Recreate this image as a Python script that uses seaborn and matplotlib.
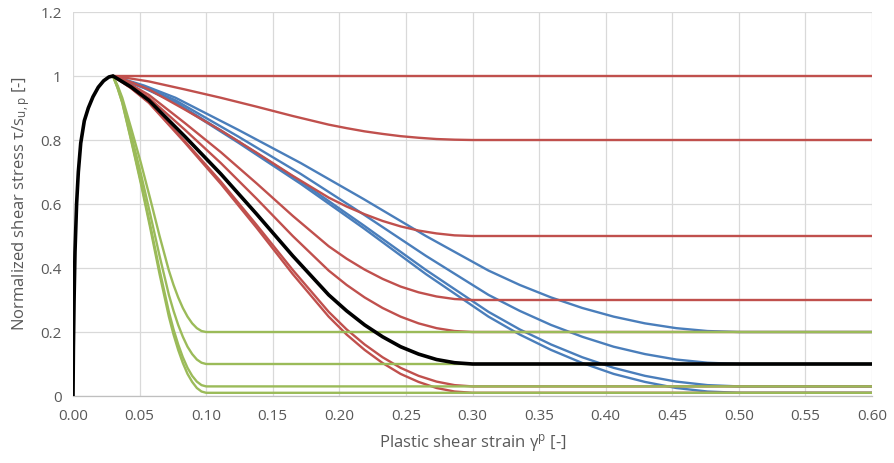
import numpy as np
import pandas as pd
import matplotlib
matplotlib.use("Agg")
import matplotlib.pyplot as plt
import seaborn as sns

# ---------------- data ----------------
# Red family: residual reached at strain 0.30
red_x = [0.03, 0.0435, 0.057, 0.084, 0.111, 0.138, 0.165, 0.192, 0.2055, 0.219,
         0.2325, 0.246, 0.2595, 0.273, 0.2865, 0.30, 0.60]
red_r100 = [1.0] * 17
red_r080 = [1.0, 0.992, 0.983, 0.958, 0.932, 0.904, 0.875, 0.848, 0.837, 0.827,
            0.819, 0.812, 0.807, 0.803, 0.801, 0.800, 0.800]
red_r050 = [1.0, 0.981, 0.958, 0.895, 0.830, 0.760, 0.688, 0.620, 0.592, 0.568,
            0.547, 0.530, 0.517, 0.508, 0.502, 0.500, 0.500]
red_r030 = [1.0, 0.973, 0.941, 0.853, 0.762, 0.664, 0.563, 0.468, 0.429, 0.395,
            0.366, 0.342, 0.324, 0.311, 0.303, 0.300, 0.300]
red_r020 = [1.0, 0.970, 0.932, 0.832, 0.728, 0.616, 0.500, 0.392, 0.347, 0.308,
            0.275, 0.248, 0.227, 0.212, 0.203, 0.200, 0.200]
red_r003 = [1.0, 0.963, 0.918, 0.796, 0.670, 0.534, 0.394, 0.263, 0.208, 0.161,
            0.121, 0.088, 0.063, 0.045, 0.034, 0.030, 0.030]
red_r001 = [1.0, 0.962, 0.916, 0.792, 0.663, 0.525, 0.381, 0.248, 0.192, 0.144,
            0.103, 0.069, 0.044, 0.025, 0.014, 0.010, 0.010]

# Blue family: residual reached at strain 0.50
blue_x = [0.03, 0.0535, 0.077, 0.124, 0.171, 0.218, 0.265, 0.312, 0.3355, 0.359,
          0.3825, 0.406, 0.4295, 0.453, 0.4765, 0.50, 0.60]
# Green family: residual reached at strain 0.10
green_x = [0.03, 0.0335, 0.037, 0.044, 0.051, 0.058, 0.065, 0.072, 0.0755, 0.079,
           0.0825, 0.086, 0.0895, 0.093, 0.0965, 0.10, 0.60]

soft_r020 = [1.0, 0.970, 0.932, 0.832, 0.728, 0.616, 0.500, 0.392, 0.347, 0.308,
             0.275, 0.248, 0.227, 0.212, 0.203, 0.200, 0.200]
soft_r010 = [1.0, 0.966, 0.924, 0.811, 0.694, 0.568, 0.438, 0.316, 0.266, 0.222,
             0.185, 0.154, 0.131, 0.114, 0.104, 0.100, 0.100]
soft_r003 = [1.0, 0.963, 0.918, 0.796, 0.670, 0.534, 0.394, 0.263, 0.208, 0.161,
             0.121, 0.088, 0.063, 0.045, 0.034, 0.030, 0.030]
soft_r001 = [1.0, 0.962, 0.916, 0.792, 0.663, 0.525, 0.381, 0.248, 0.192, 0.144,
             0.103, 0.069, 0.044, 0.025, 0.014, 0.010, 0.010]

# Black reference curve: pre-peak hardening + softening to 0.1 at 0.30
black_x = [0.0, 0.0003, 0.0008, 0.0015, 0.0027, 0.004, 0.0058, 0.0085,
           0.0115, 0.015, 0.019, 0.023, 0.027] + red_x
black_y = [0.0, 0.15, 0.30, 0.45, 0.60, 0.70, 0.79, 0.86, 0.90, 0.935,
           0.965, 0.985, 0.997] + soft_r010

x_ticks = [0.00, 0.05, 0.10, 0.15, 0.20, 0.25, 0.30, 0.35, 0.40, 0.45,
           0.50, 0.55, 0.60]
y_ticks = [0, 0.2, 0.4, 0.6, 0.8, 1.0, 1.2]
y_tick_labels = ["0", "0.2", "0.4", "0.6", "0.8", "1", "1.2"]

# ---------------- build tidy table ----------------
rows = []
def add(family, name, xs, ys):
    for xv, yv in zip(xs, ys):
        rows.append((family, name, xv, yv))

for nm, ys in [("b20", soft_r020), ("b10", soft_r010), ("b03", soft_r003), ("b01", soft_r001)]:
    add("blue", nm, blue_x, ys)
for nm, ys in [("r100", red_r100), ("r80", red_r080), ("r50", red_r050), ("r30", red_r030),
               ("r20", red_r020), ("r03", red_r003), ("r01", red_r001)]:
    add("red", nm, red_x, ys)
for nm, ys in [("g20", soft_r020), ("g10", soft_r010), ("g03", soft_r003), ("g01", soft_r001)]:
    add("green", nm, green_x, ys)
add("black", "k", black_x, black_y)
df = pd.DataFrame(rows, columns=["family", "curve", "x", "y"])

# ---------------- plot ----------------
sns.set_style("white")
plt.rcParams["font.family"] = ["Open Sans", "DejaVu Sans"]
plt.rcParams["mathtext.fontset"] = "custom"
plt.rcParams["mathtext.rm"] = "Open Sans"
plt.rcParams["mathtext.it"] = "Open Sans:italic"

fig = plt.figure(figsize=(8.94, 4.63), dpi=100)
ax = fig.add_axes([73 / 894, 1 - 396 / 463, (872 - 73) / 894, (396 - 12) / 463])

colors = {"blue": "#4A7EBB", "red": "#C0504D", "green": "#9BBB59", "black": "#000000"}
widths = {"blue": 1.7, "red": 1.7, "green": 1.7, "black": 2.6}
for fam in ["blue", "red", "green", "black"]:
    sub = df[df.family == fam]
    sns.lineplot(data=sub, x="x", y="y", units="curve", estimator=None, sort=False,
                 color=colors[fam], lw=widths[fam], ax=ax, legend=False,
                 zorder=3 if fam != "black" else 4)

ax.set_xlim(0, 0.6)
ax.set_ylim(0, 1.2)
ax.set_xticks(x_ticks)
ax.set_xticklabels([f"{v:.2f}" for v in x_ticks])
ax.set_yticks(y_ticks)
ax.set_yticklabels(y_tick_labels)
ax.grid(True, color="#D9D9D9", lw=0.9)
ax.set_axisbelow(True)
for s in ["top", "right", "left"]:
    ax.spines[s].set_visible(False)
ax.spines["bottom"].set_color("#BFBFBF")
ax.spines["bottom"].set_linewidth(0.9)
ax.tick_params(axis="both", length=0, labelsize=11, labelcolor="#595959")
ax.tick_params(axis="x", pad=9)
ax.tick_params(axis="y", pad=8)
ax.set_xlabel("Plastic shear strain γ$^{\\mathrm{p}}$ [-]", fontsize=12,
              color="#595959", labelpad=6)
ax.set_ylabel("Normalized shear stress τ/s$_{\\mathrm{u,p}}$ [-]", fontsize=12,
              color="#595959", labelpad=6)

fig.savefig("out.png", dpi=100)
